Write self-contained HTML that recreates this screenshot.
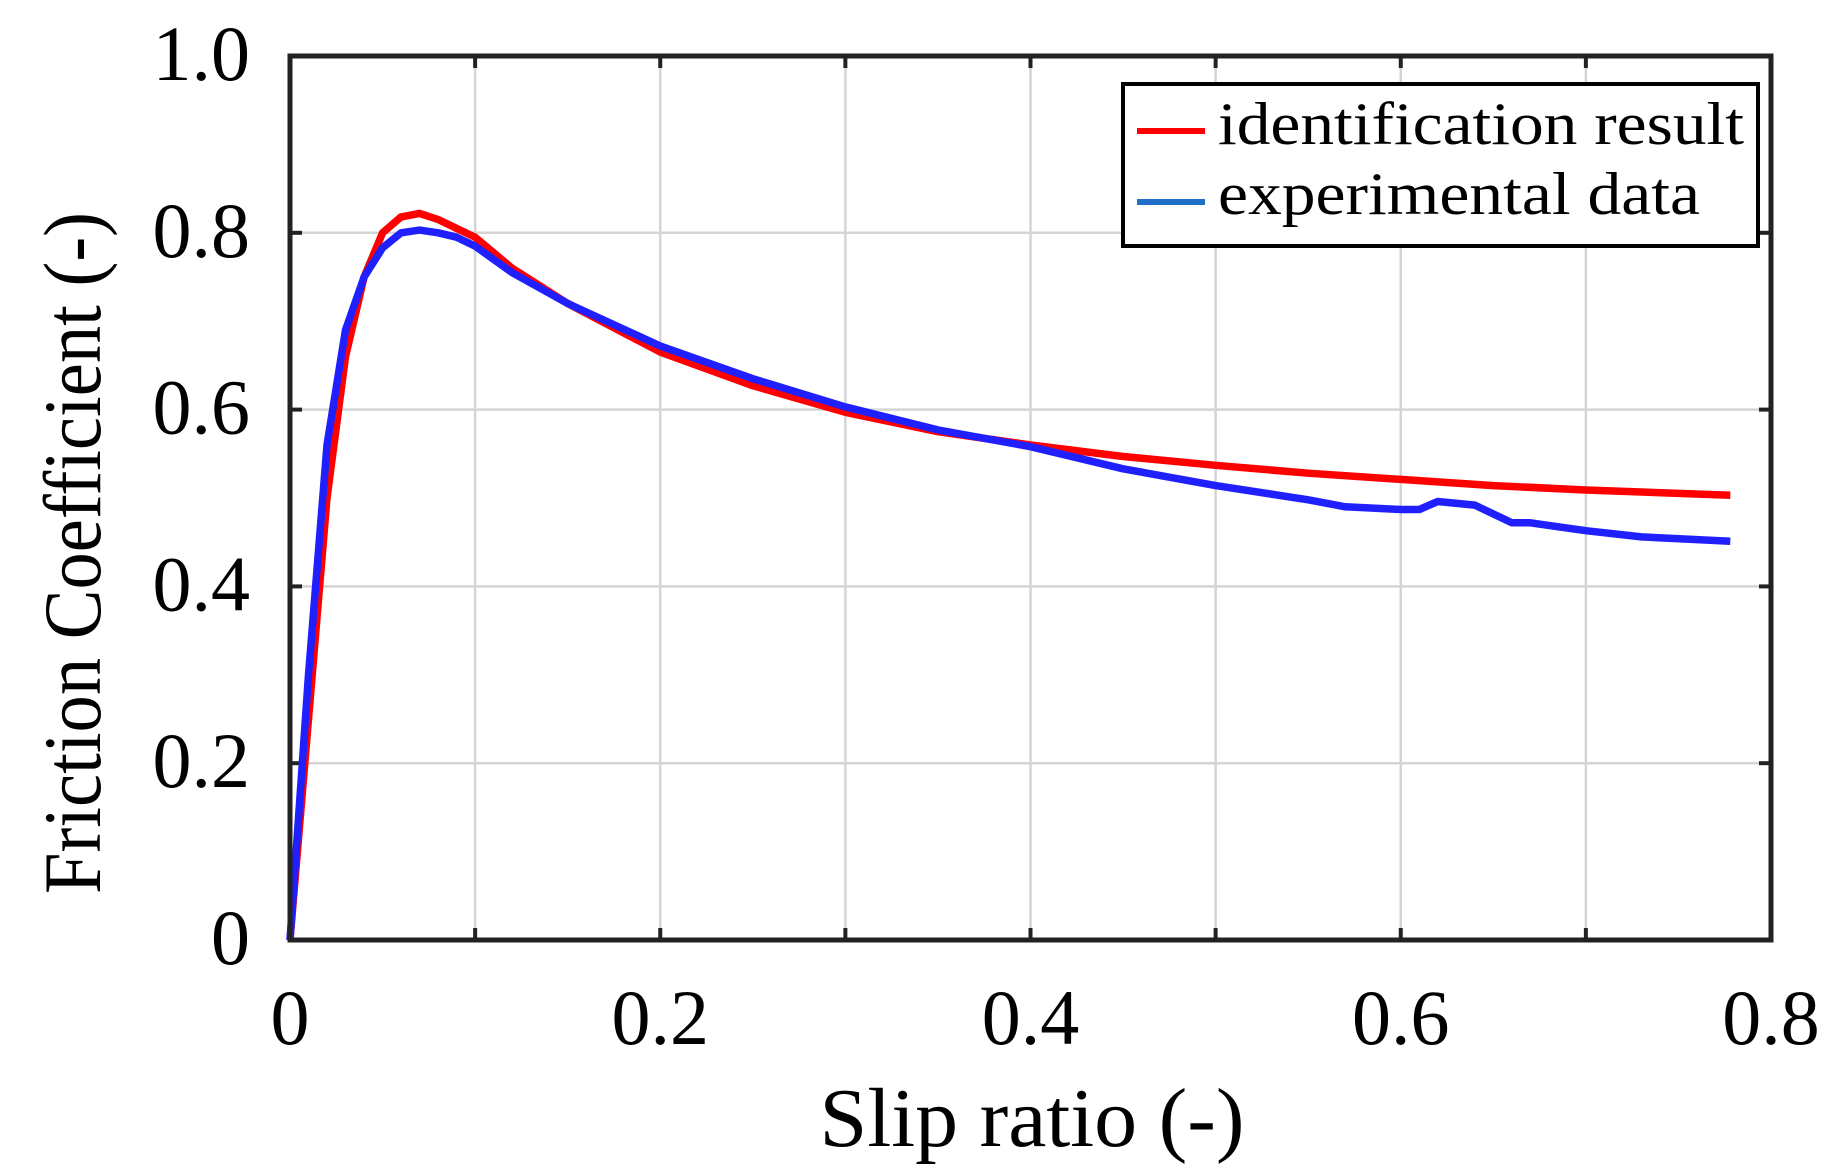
<!DOCTYPE html>
<html><head><meta charset="utf-8"><style>html,body{margin:0;padding:0;background:#fff}svg{display:block}</style></head>
<body>
<svg id="s" width="1834" height="1174" xmlns="http://www.w3.org/2000/svg" font-family="'Liberation Serif', serif">
<rect width="1834" height="1174" fill="#fff"/>
<g id="grid" stroke="#d4d4d4" stroke-width="2.5"></g>
<g id="ticks" stroke="#222" stroke-width="4"></g>
<path id="red" fill="none" stroke="#ff0000" stroke-width="7.5" stroke-linejoin="round"/>
<path id="blue" fill="none" stroke="#2020ff" stroke-width="7.5" stroke-linejoin="round"/>
<rect x="290" y="56" width="1481" height="884" fill="none" stroke="#222" stroke-width="5"/>
<g id="labels" font-size="78" fill="#000"></g>
<text x="1032" y="1146" font-size="84" text-anchor="middle" textLength="425" lengthAdjust="spacingAndGlyphs">Slip ratio (-)</text>
<text transform="translate(100,553) rotate(-90)" font-size="82" text-anchor="middle" textLength="682" lengthAdjust="spacingAndGlyphs">Friction Coefficient (-)</text>
<rect x="1123" y="84" width="635" height="162" fill="#fff" stroke="#000" stroke-width="4"/>
<line x1="1137" y1="131" x2="1205" y2="131" stroke="#ff0000" stroke-width="6"/>
<line x1="1137" y1="202" x2="1205" y2="202" stroke="#1f70c8" stroke-width="6"/>
<text x="1218" y="144" font-size="60" textLength="526" lengthAdjust="spacingAndGlyphs">identification result</text>
<text x="1218" y="214" font-size="60" textLength="482" lengthAdjust="spacingAndGlyphs">experimental data</text>
</svg>
<script>
var X0=290,X1=1771,Y0=940,Y1=56;
function px(x){return X0+(X1-X0)*x/0.8}
function py(y){return Y0-(Y0-Y1)*y}
var g=document.getElementById('grid'),t=document.getElementById('ticks'),l=document.getElementById('labels'),ns='http://www.w3.org/2000/svg';
function add(p,tag,a,txt){var e=document.createElementNS(ns,tag);for(var k in a)e.setAttribute(k,a[k]);if(txt)e.textContent=txt;p.appendChild(e);}
for(var i=1;i<8;i++){var x=px(i*0.1);add(g,'line',{x1:x,y1:Y1,x2:x,y2:Y0});add(t,'line',{x1:x,y1:Y0,x2:x,y2:Y0-12});add(t,'line',{x1:x,y1:Y1,x2:x,y2:Y1+12});}
for(var i=1;i<5;i++){var y=py(i*0.2);add(g,'line',{x1:X0,y1:y,x2:X1,y2:y});add(t,'line',{x1:X0,y1:y,x2:X0+12,y2:y});add(t,'line',{x1:X1,y1:y,x2:X1-12,y2:y});}
var yl=['0','0.2','0.4','0.6','0.8','1.0'];
for(var i=0;i<6;i++)add(l,'text',{x:250,y:py(i*0.2)+24,'text-anchor':'end'},yl[i]);
var xl=['0','0.2','0.4','0.6','0.8'];
for(var i=0;i<5;i++)add(l,'text',{x:px(i*0.2),y:1044,'text-anchor':'middle'},xl[i]);
var R=[[0,0],[0.01,0.25],[0.02,0.5],[0.03,0.66],[0.04,0.75],[0.05,0.8],[0.06,0.818],[0.07,0.822],[0.08,0.815],[0.1,0.795],[0.12,0.76],[0.15,0.72],[0.2,0.665],[0.25,0.627],[0.3,0.597],[0.35,0.575],[0.4,0.56],[0.45,0.547],[0.5,0.537],[0.55,0.528],[0.6,0.521],[0.65,0.514],[0.7,0.509],[0.778,0.503]];
var B=[[0,0],[0.01,0.3],[0.02,0.56],[0.03,0.69],[0.04,0.75],[0.05,0.783],[0.06,0.8],[0.07,0.803],[0.08,0.8],[0.09,0.795],[0.1,0.785],[0.12,0.755],[0.15,0.72],[0.2,0.672],[0.25,0.635],[0.3,0.603],[0.35,0.577],[0.4,0.558],[0.45,0.533],[0.5,0.514],[0.55,0.498],[0.57,0.49],[0.6,0.487],[0.61,0.487],[0.62,0.496],[0.64,0.492],[0.66,0.472],[0.67,0.472],[0.7,0.463],[0.73,0.456],[0.778,0.451]];
function d(P){return P.map(function(p,i){return (i?'L':'M')+px(p[0]).toFixed(1)+' '+py(p[1]).toFixed(1)}).join(' ')}
document.getElementById('red').setAttribute('d',d(R));
document.getElementById('blue').setAttribute('d',d(B));
</script>
</body></html>
